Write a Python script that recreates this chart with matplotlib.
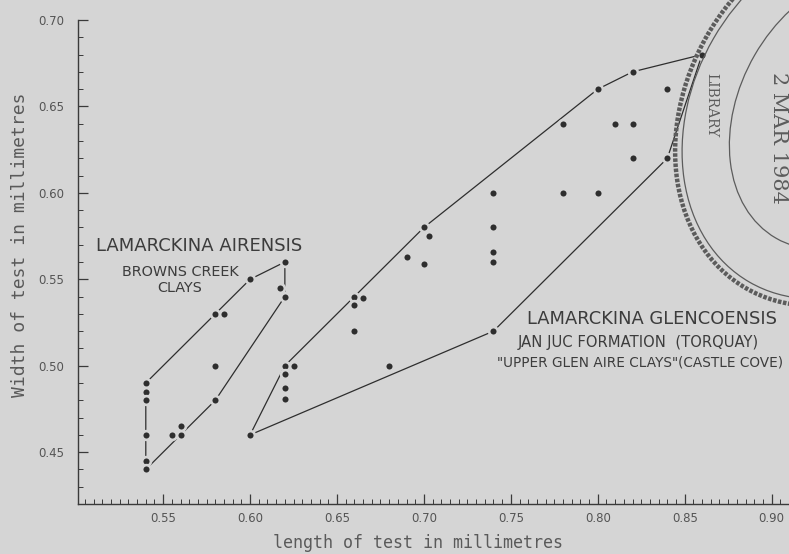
import matplotlib
matplotlib.use("Agg")
import matplotlib.pyplot as plt
from matplotlib.patches import Ellipse
import numpy as np

# ---- data ----
air_x = [0.54, 0.54, 0.54, 0.54, 0.54, 0.54, 0.555, 0.56, 0.56, 0.58, 0.58, 0.58, 0.585, 0.60, 0.617, 0.62, 0.62]
air_y = [0.49, 0.485, 0.48, 0.46, 0.445, 0.44, 0.46, 0.46, 0.465, 0.48, 0.50, 0.53, 0.53, 0.55, 0.545, 0.54, 0.56]
air_hull_x = [0.54, 0.60, 0.62, 0.62, 0.58, 0.54, 0.54]
air_hull_y = [0.49, 0.55, 0.56, 0.54, 0.48, 0.44, 0.49]

glen_x = [0.60, 0.62, 0.62, 0.62, 0.62, 0.625, 0.66, 0.66, 0.66, 0.665, 0.68, 0.69, 0.70, 0.70, 0.703,
          0.74, 0.74, 0.74, 0.74, 0.74, 0.78, 0.78, 0.80, 0.80, 0.81, 0.82, 0.82, 0.82, 0.84, 0.84, 0.86]
glen_y = [0.46, 0.50, 0.495, 0.487, 0.481, 0.50, 0.54, 0.535, 0.52, 0.539, 0.50, 0.563, 0.58, 0.559, 0.575,
          0.60, 0.58, 0.566, 0.56, 0.52, 0.64, 0.60, 0.66, 0.60, 0.64, 0.67, 0.64, 0.62, 0.66, 0.62, 0.68]
glen_hull_x = [0.60, 0.62, 0.66, 0.70, 0.80, 0.82, 0.86, 0.84, 0.74, 0.60]
glen_hull_y = [0.46, 0.50, 0.54, 0.58, 0.66, 0.67, 0.68, 0.62, 0.52, 0.46]

x_ticks = [0.55, 0.60, 0.65, 0.70, 0.75, 0.80, 0.85, 0.90]
x_tick_labels = ["0.55", "0.60", "0.65", "0.70", "0.75", "0.80", "0.85", "0.90"]
y_ticks = [0.45, 0.50, 0.55, 0.60, 0.65, 0.70]
y_tick_labels = ["0.45", "0.50", "0.55", "0.60", "0.65", "0.70"]

BG = "#d5d5d5"
INK = "#2e2e2e"
TXT = "#3c3c3c"
LBL = "#5a5a5a"
STAMP = "#5c5c5c"

W, H = 789, 554
fig = plt.figure(figsize=(W / 100, H / 100), dpi=100, facecolor=BG)

# axes: left spine at x=78px, bottom at y=504px, top (0.70) at y=20px, right at figure edge
ax = fig.add_axes([78 / W, (H - 504) / H, (W - 78) / W, (504 - 20) / H])
ax.set_facecolor(BG)
ax.set_xlim(0.501, 0.91)
ax.set_ylim(0.42, 0.70)
for s in ("top", "right"):
    ax.spines[s].set_visible(False)
for s in ("left", "bottom"):
    ax.spines[s].set_color("#3a3a3a")
    ax.spines[s].set_linewidth(1.0)

ax.set_xticks(x_ticks)
ax.set_xticklabels(x_tick_labels)
ax.set_xticks(np.arange(0.505, 0.91, 0.005), minor=True)
ax.set_yticks(y_ticks)
ax.set_yticklabels(y_tick_labels)
ax.set_yticks(np.arange(0.43, 0.70, 0.01), minor=True)
ax.tick_params(axis="both", which="major", direction="in", length=7, width=0.9, color="#3a3a3a",
               labelsize=8.5, labelcolor="#555555")
ax.tick_params(axis="both", which="minor", direction="in", length=3.5, width=0.7, color="#3a3a3a")
ax.tick_params(axis="x", which="major", pad=6)
ax.tick_params(axis="y", which="major", pad=10)

halo = dict(marker="o", markersize=6.3, markerfacecolor=INK, markeredgecolor=BG, markeredgewidth=1.9,
            linestyle="none", zorder=3, clip_on=False)

ax.plot(air_hull_x, air_hull_y, color=INK, lw=0.9, zorder=2)
ax.plot(glen_hull_x, glen_hull_y, color=INK, lw=0.9, zorder=2)
ax.plot(air_x, air_y, **halo)
ax.plot(glen_x, glen_y, **halo)

# axis titles (placed in pixel positions)
fig.text(418 / W, 1 - 543 / H, "length of test in millimetres", fontsize=12, color=LBL,
         family="DejaVu Sans Mono", ha="center", va="center")
fig.text(20 / W, 1 - 245 / H, "Width of test in millimetres", fontsize=13, color=LBL,
         family="DejaVu Sans Mono", ha="center", va="center", rotation=90)

# annotations
def ftxt(px, py, s, size, ha="center"):
    fig.text(px / W, 1 - py / H, s, fontsize=size, color=TXT, ha=ha, va="center")

ftxt(199, 246, "LAMARCKINA AIRENSIS", 13)
ftxt(180, 272, "BROWNS CREEK", 10.4)
ftxt(180, 288, "CLAYS", 10.4)
ftxt(527, 319, "LAMARCKINA GLENCOENSIS", 12.9, ha="left")
ftxt(518, 342, "JAN JUC FORMATION  (TORQUAY)", 10.6, ha="left")
ftxt(497, 363, "\"UPPER GLEN AIRE CLAYS\"(CASTLE COVE)", 9.8, ha="left")

# library stamp (decoration), pixel coordinates
ov = fig.add_axes([0, 0, 1, 1], facecolor="none")
ov.set_xlim(0, W)
ov.set_ylim(H, 0)
ov.axis("off")
ov.add_patch(Ellipse((846, 115), 400, 320, angle=-60, fill=False, ec=STAMP, lw=3.2, ls=(0, (0.8, 0.35))))
ov.add_patch(Ellipse((846, 115), 386, 306, angle=-60, fill=False, ec=STAMP, lw=0.9))
ov.add_patch(Ellipse((850, 110), 296, 220, angle=-60, fill=False, ec=STAMP, lw=0.9))
ov.text(711, 105, "LIBRARY", rotation=-90, fontsize=10, color=STAMP, ha="center", va="center",
        family="DejaVu Serif")
ov.text(779, 138, "2 MAR 1984", rotation=-90, fontsize=15, color=STAMP, ha="center", va="center",
        family="DejaVu Serif")

fig.savefig("out.png", dpi=100, facecolor=BG)
